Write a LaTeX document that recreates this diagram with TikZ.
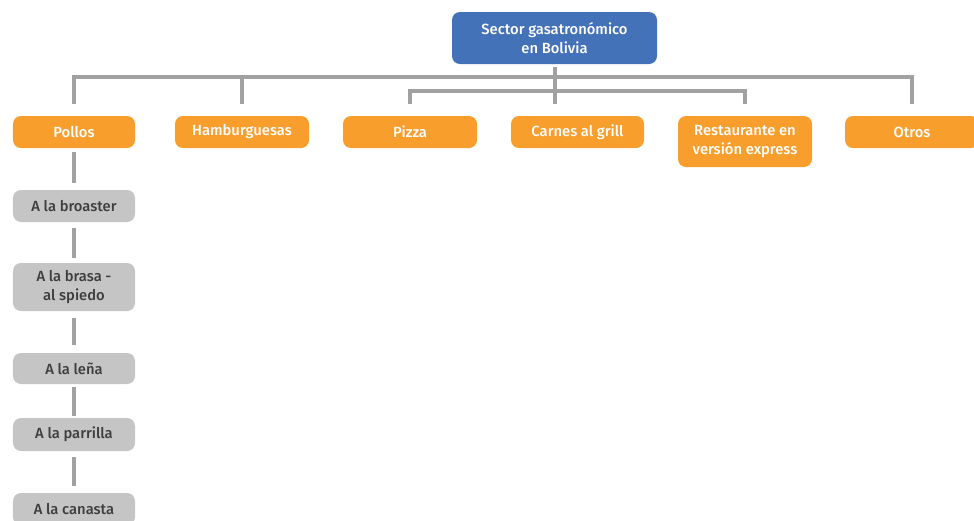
\documentclass[tikz,border=0pt]{standalone}
\usepackage{fontspec}
\setmainfont{Fira Sans}[UprightFont=* Medium]
\usepackage{xcolor}
\usepackage{tikz}
\usetikzlibrary{positioning, calc}
\definecolor{sectorblue}{HTML}{4472B8}
\definecolor{catorange}{HTML}{F79E2C}
\definecolor{subgray}{HTML}{C5C5C5}
\definecolor{linegray}{HTML}{A1A1A1}
\definecolor{subtext}{HTML}{3E3E3E}
\tikzset{
  rootbox/.style={
    rounded corners=2mm, align=center, fill=sectorblue, text=white,
    font=\fontsize{10.5}{14}\selectfont, inner sep=0pt,
    minimum width=51.25mm, minimum height=13mm
  },
  catbox/.style={
    rounded corners=2mm, align=center, fill=catorange, text=white,
    font=\fontsize{10.5}{14}\selectfont, inner sep=0pt,
    minimum width=33.5mm, minimum height=8mm
  },
  subbox/.style={
    rounded corners=2mm, align=center, fill=subgray, text=subtext,
    font=\fontsize{10.5}{14}\selectfont, inner sep=0pt,
    minimum width=30.5mm, minimum height=8mm
  },
  treeline/.style={
    line width=1mm, color=linegray
  },
}

\begin{document}
\begin{tikzpicture}[x=0.25mm, y=-0.25mm]
  \useasboundingbox (0,0) rectangle (974,520);

  % Central: sector
  \node[rootbox] (sector) at (554.5,38) {Sector gasatronómico\\en Bolivia};

  % Bus levels
  \coordinate (topbus) at (0,77);
  \coordinate (midbus) at (0,91);

  % Categories
  \node[catbox, minimum width=30.5mm] (pollos) at (74,132) {Pollos};
  \node[catbox] (hamb) at (242,132) {Hamburguesas};
  \node[catbox] (pizza) at (410,132) {Pizza};
  \node[catbox, minimum width=33.25mm] (carnes) at (577.5,132) {Carnes al grill};
  \node[catbox, minimum height=12.75mm] (express) at (745,141.5)
    {Restaurante en\\versión express};
  \node[catbox] (otros) at (912,132) {Otros};

  % Pollos: kinds
  \node[subbox] (broaster) at (74,206) {A la broaster};
  \node[subbox, minimum height=12mm] (brasa) at (74,287) {A la brasa -\\al spiedo};
  \node[subbox, minimum height=7.75mm] (lena) at (74,368.5) {A la leña};
  \node[subbox, minimum height=8.25mm] (parrilla) at (74,434.5) {A la parrilla};
  \node[subbox] (canasta) at (74,509) {A la canasta};

  % Lines: sector to categories
  \draw[treeline, shorten <=0.75mm, shorten >=3mm] (sector.south) -- (sector.south |- carnes.north);
  \draw[treeline, shorten <=3mm, shorten >=3mm] (pollos.north) -- (pollos.north |- topbus)
    -- (otros.north |- topbus) -- (otros.north);
  \draw[treeline, shorten >=3mm] (hamb.north |- topbus) -- (hamb.north);
  \draw[treeline, shorten <=3mm, shorten >=3mm] (pizza.north) -- (pizza.north |- midbus)
    -- (express.north |- midbus) -- (express.north);

  % Lines: pollos chain
  \draw[treeline, shorten <=1mm, shorten >=1.75mm] (pollos) -- (broaster);
  \draw[treeline, shorten <=1.5mm, shorten >=1.25mm] (broaster) -- (brasa);
  \draw[treeline, shorten <=1.75mm, shorten >=2mm] (brasa) -- (lena);
  \draw[treeline, shorten <=0.75mm, shorten >=0.5mm] (lena) -- (parrilla);
  \draw[treeline, shorten <=1.5mm, shorten >=1.75mm] (parrilla) -- (canasta);
\end{tikzpicture}
\end{document}
